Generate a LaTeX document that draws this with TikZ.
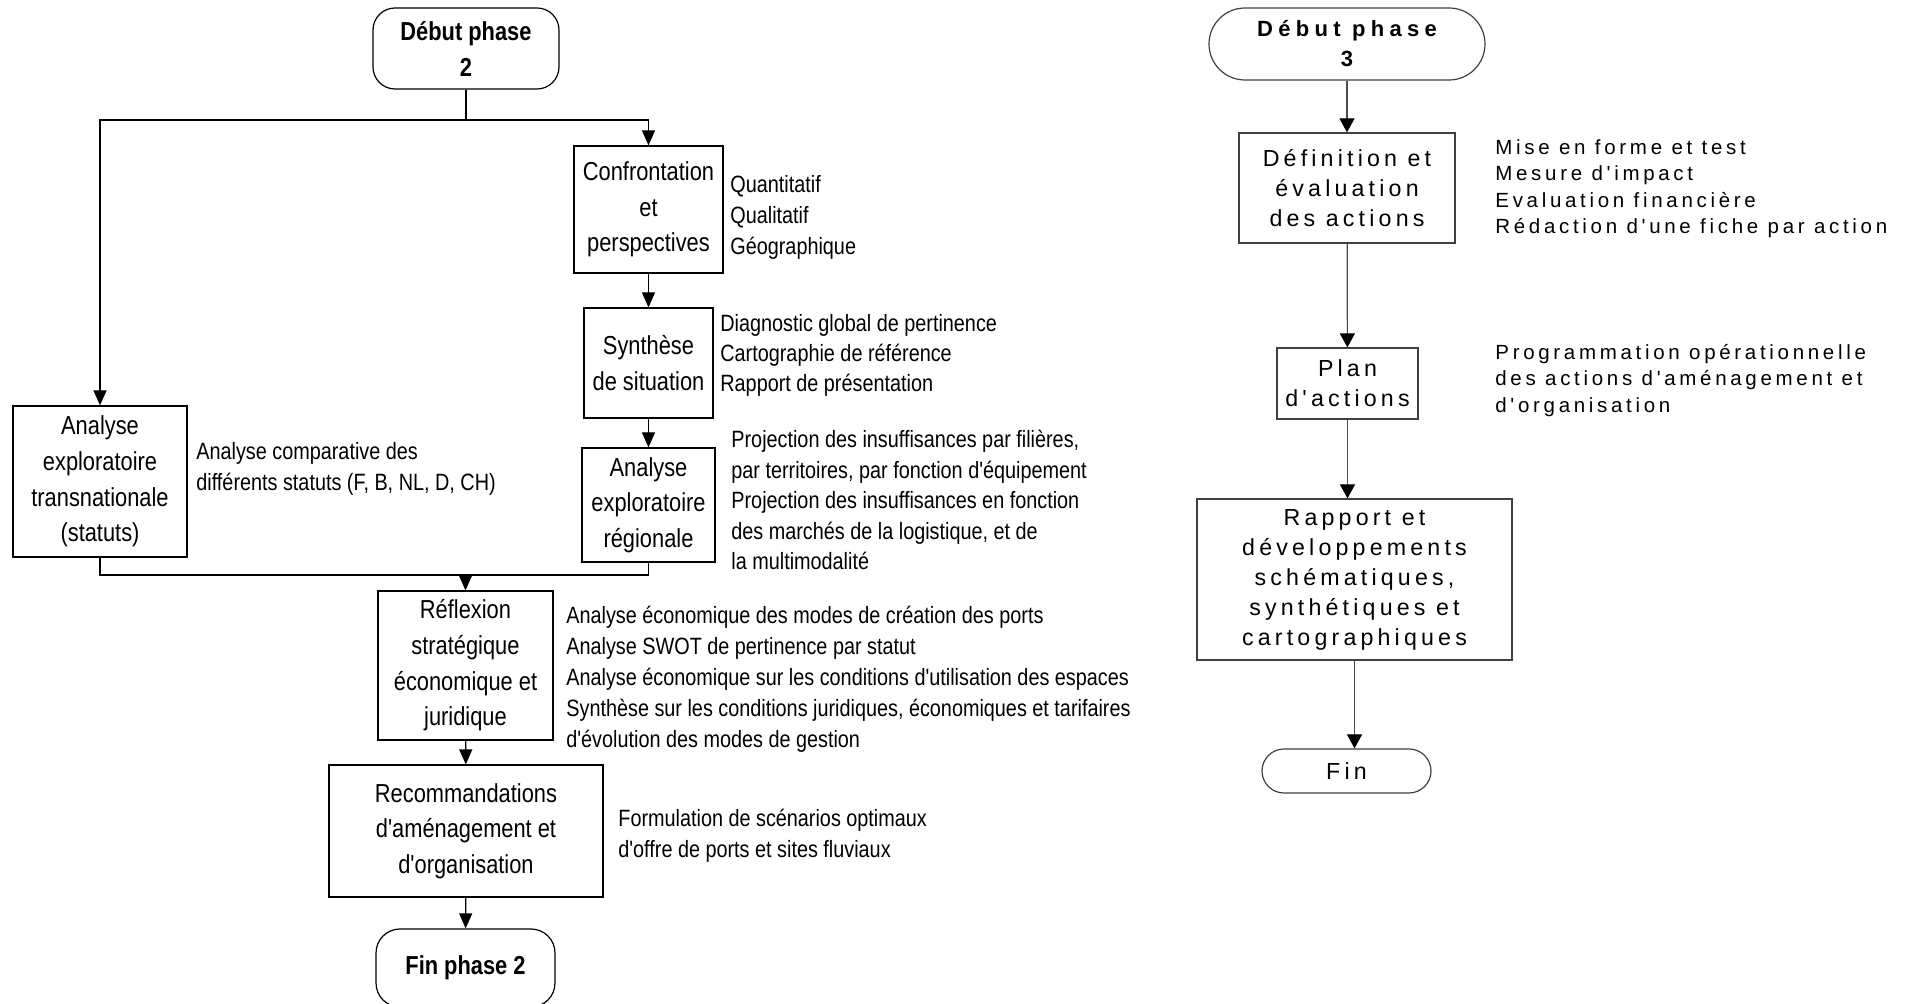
\documentclass[tikz,border=0pt]{standalone}
\usepackage{fontspec}
\setmainfont{Liberation Sans}
\newfontfamily\nar[FakeStretch=0.84,Ligatures=TeXOff]{Liberation Sans}
\newfontfamily\spc[LetterSpace=18,Ligatures=TeXOff]{Liberation Sans}
\newfontfamily\spcb[LetterSpace=24,Ligatures=TeXOff]{Liberation Sans}
\usetikzlibrary{arrows.meta}
\begin{document}
\begin{tikzpicture}[x=0.5pt,y=-0.5pt,
  lbox/.style={draw=black, line width=0.6pt, inner sep=0pt, align=center,
    font=\nar\fontsize{13}{17.8}\selectfont},
  lterm/.style={lbox, rounded corners=11pt, font=\nar\bfseries\fontsize{13}{18}\selectfont},
  rbox/.style={draw=black!75, line width=0.6pt, inner sep=0pt, align=center,
    font=\spc\fontsize{11.6}{15}\selectfont},
  rterm/.style={rbox},
  ltxt/.style={inner sep=0pt, anchor=north west, align=left,
    font=\nar\fontsize{11.8}{15.5}\selectfont},
  rtxt/.style={inner sep=0pt, anchor=north west, align=left,
    font=\spc\fontsize{10.25}{13.2}\selectfont},
  larr/.style={line width=0.6pt, -{Triangle[length=7.5pt,width=6.5pt]}},
  lline/.style={line width=0.6pt},
  rarr/.style={line width=0.6pt, draw=black!70, -{Triangle[length=7pt,width=7.5pt,fill=black,color=black]}},
]
\useasboundingbox (0,0) rectangle (1919,1004);

% ---------- Left flowchart (phase 2) ----------
\node[lterm, minimum width=93pt, minimum height=40.5pt] (d2) at (466,48.5) {D\'ebut phase\\2};
\node[lbox, minimum width=74.5pt, minimum height=63.5pt] (conf) at (648.5,209.5) {Confrontation\\et\\perspectives};
\node[lbox, minimum width=64.5pt, minimum height=55pt] (synth) at (648.5,363) {Synth\`ese\\de situation};
\node[lbox, minimum width=66.5pt, minimum height=57pt] (reg) at (648.5,505) {Analyse\\exploratoire\\r\'egionale};
\node[lbox, minimum width=87pt, minimum height=75.5pt] (trans) at (100,481.5) {Analyse\\exploratoire\\transnationale\\(statuts)};
\node[lbox, minimum width=87.5pt, minimum height=74.5pt] (refl) at (465.5,665.5) {R\'eflexion\\strat\'egique\\\'economique et\\juridique};
\node[lbox, minimum width=137pt, minimum height=66pt] (reco) at (466,831) {Recommandations\\d'am\'enagement et\\d'organisation};
\node[lterm, minimum width=89.5pt, minimum height=39pt, rounded corners=12pt] (fin2) at (465.5,968) {Fin phase 2};

\coordinate (brL) at (100,120);
\coordinate (brR) at (648.5,120);
\coordinate (mg) at (465.5,575);

\draw[larr] (d2.south) |- (brL) -- (trans.north);
\draw[larr] (d2.south) |- (brR) -- (conf.north);
\draw[larr] (conf) -- (synth);
\draw[larr] (synth) -- (reg);
\draw[lline] (trans.south) |- (mg);
\draw[lline] (reg.south) |- (mg);
\draw[larr] (mg) -- (refl.north);
\draw[larr] (refl) -- (reco);
\draw[larr] (reco) -- (fin2);

\node[ltxt] (t1) at (730,175.5) {Quantitatif\\Qualitatif\\G\'eographique};
\node[ltxt, font=\nar\fontsize{11.8}{15}\selectfont] (t2) at (720,314.5) {Diagnostic global de pertinence\\Cartographie de r\'ef\'erence\\Rapport de pr\'esentation};
\node[ltxt, font=\nar\fontsize{11.8}{15.25}\selectfont] (t3) at (731,430) {Projection des insuffisances par fili\`eres,\\par territoires, par fonction d'\'equipement\\Projection des insuffisances en fonction\\des march\'es de la logistique, et de\\la multimodalit\'e};
\node[ltxt] (t4) at (196,442.5) {Analyse comparative des\\diff\'erents statuts (F, B, NL, D, CH)};
\node[ltxt] (t5) at (566,605.5) {Analyse \'economique des modes de cr\'eation des ports\\Analyse SWOT de pertinence par statut\\Analyse \'economique sur les conditions d'utilisation des espaces\\Synth\`ese sur les conditions juridiques, \'economiques et tarifaires\\d'\'evolution des modes de gestion};
\node[ltxt] (t6) at (618,808.5) {Formulation de sc\'enarios optimaux\\d'offre de ports et sites fluviaux};

% ---------- Right flowchart (phase 3) ----------
\node[rterm, minimum width=138pt, minimum height=36pt, rounded corners=18pt,
  font=\spcb\bfseries\fontsize{11}{15}\selectfont] (d3) at (1347,44) {D\'ebut phase\\3};
\node[rbox, minimum width=108pt, minimum height=55pt] (def) at (1347,188) {D\'efinition et\\\'evaluation\\des actions};
\node[rbox, minimum width=70.5pt, minimum height=35.5pt] (plan) at (1347.5,383.5) {Plan\\d'actions};
\node[rbox, minimum width=157.5pt, minimum height=80.5pt] (rap) at (1354.5,579.5) {Rapport et\\d\'eveloppements\\sch\'ematiques,\\synth\'etiques et\\cartographiques};
\node[rterm, minimum width=84.5pt, minimum height=22pt, rounded corners=11pt] (fin) at (1346.5,771) {Fin};

\draw[rarr] (d3) -- (def);
\draw[rarr] (def) -- (plan);
\draw[rarr] (plan.south) -- (plan.south |- rap.north);
\draw[rarr] (rap.south) -- (rap.south |- fin.north);

\node[rtxt] (t7) at (1495,139) {Mise en forme et test\\Mesure d'impact\\Evaluation financi\`ere\\R\'edaction d'une fiche par action};
\node[rtxt] (t8) at (1495,344) {Programmation op\'erationnelle\\des actions d'am\'enagement et\\d'organisation};
\end{tikzpicture}
\end{document}
